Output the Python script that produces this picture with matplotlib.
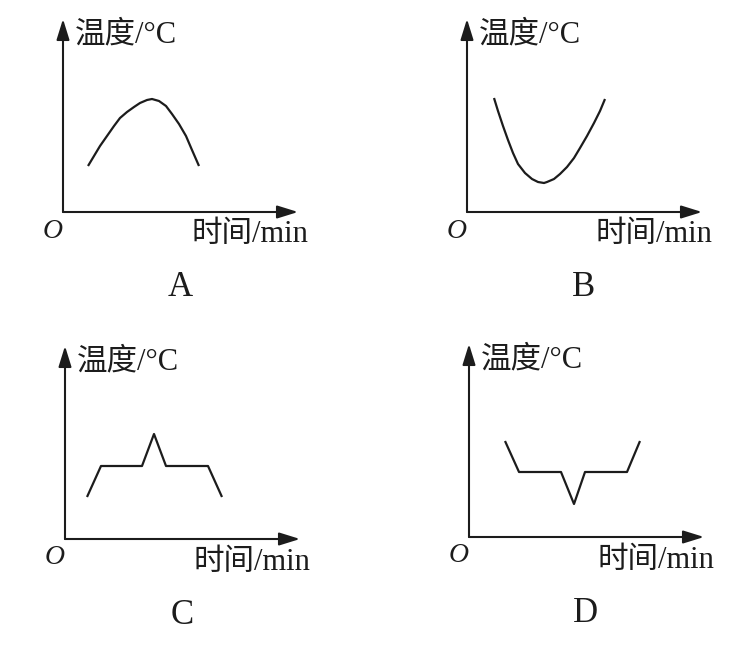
import matplotlib.pyplot as plt

# curve data (time, temperature), origin at the axis corner
time_a = [25, 31, 37, 44, 51, 57, 64, 71, 77, 84, 89, 96, 103, 109, 116, 123, 129, 136]
temp_a = [46, 56, 66, 76, 86, 94, 100, 105, 109, 112, 113, 111, 106, 98, 88, 76, 62, 46]

time_b = [27, 31, 36, 41, 46, 51, 58, 65, 71, 77, 80, 87, 93, 100, 107, 113, 120, 127, 133, 138]
temp_b = [114, 101, 86, 72, 59, 48, 39, 33, 30, 29, 30, 33, 38, 45, 54, 64, 76, 89, 101, 113]

time_c = [22, 36, 77, 89, 101, 143, 157]
temp_c = [42, 73, 73, 105, 73, 73, 42]

time_d = [36, 50, 92, 105, 116, 158, 171]
temp_d = [96, 65, 65, 33, 65, 65, 96]

letters = ["A", "B", "C", "D"]
y_label = "温度/°C"
x_label = "时间/min"

W, H = 753, 650
fig = plt.figure(figsize=(W / 100, H / 100), dpi=100)

# pixel position of each panel's origin
origins = [(63, 212), (467, 212), (65, 539), (469, 537)]
series = [(time_a, temp_a), (time_b, temp_b), (time_c, temp_c), (time_d, temp_d)]

ink = "#1c1c1c"
txt_font = ["Liberation Serif", "Noto Sans CJK SC"]
xmax, ymax = 235, 193

for (ox, oy), (t, temp), letter in zip(origins, series, letters):
    ax = fig.add_axes([ox / W, (H - oy) / H, xmax / W, ymax / H])
    ax.set_xlim(0, xmax)
    ax.set_ylim(0, ymax)
    ax.axis("off")

    ax.plot(t, temp, color=ink, lw=1.6, solid_joinstyle="round",
            solid_capstyle="butt", clip_on=False)

    arrow = dict(arrowstyle="-|>,head_length=0.9,head_width=0.28", color=ink,
                 lw=1.5, shrinkA=0, shrinkB=0, mutation_scale=14)
    ax.annotate("", xy=(xmax, 0), xytext=(0, 0), arrowprops=arrow,
                annotation_clip=False)
    ax.annotate("", xy=(0, ymax), xytext=(0, 0), arrowprops=arrow,
                annotation_clip=False)

    ax.text(63, 177, y_label, ha="center", va="center", fontsize=22,
            family=txt_font, color=ink, clip_on=False)
    ax.text(187, -23, x_label, ha="center", va="center", fontsize=22,
            family=txt_font, color=ink, clip_on=False)
    ax.text(-10, -19, "O", ha="center", va="center", fontsize=20,
            family="Liberation Serif", style="italic", color=ink, clip_on=False)
    ax.text(117, -76, letter, ha="center", va="center", fontsize=25,
            family="Liberation Serif", color=ink, clip_on=False)

fig.savefig("out.png", dpi=100, facecolor="white")
